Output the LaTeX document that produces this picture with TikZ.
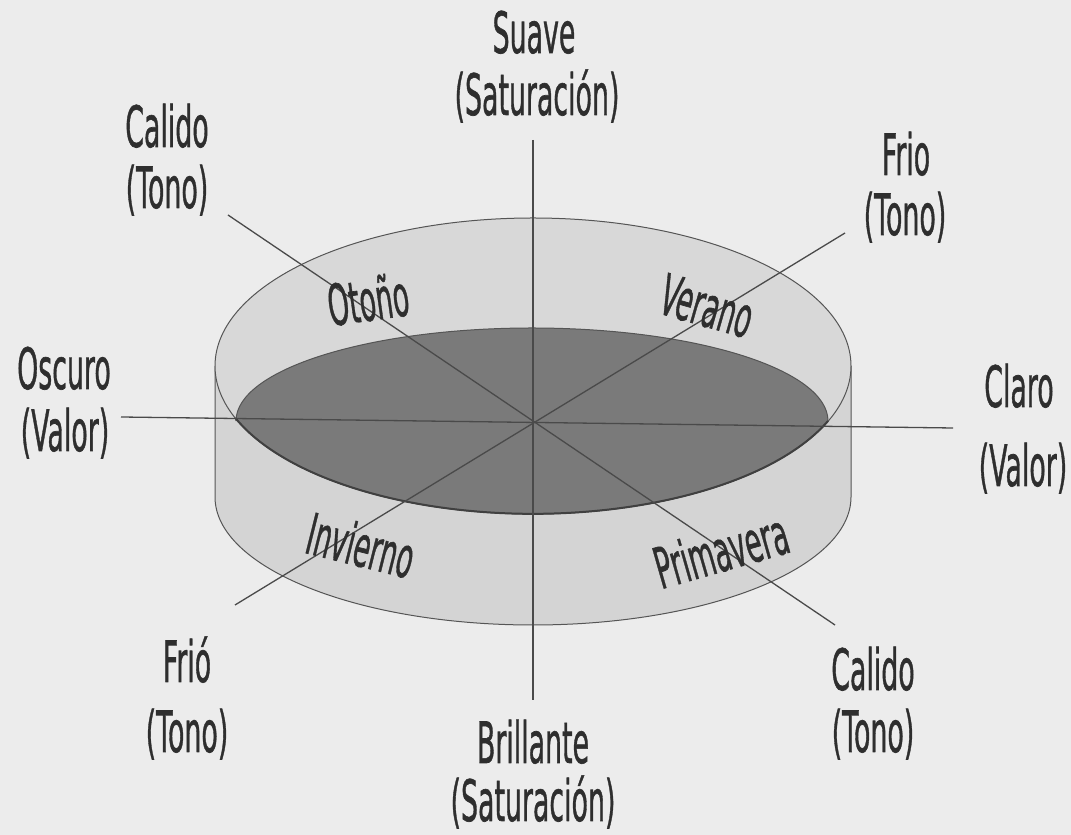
\documentclass[tikz,border=0pt]{standalone}
\usepackage{fontspec}
\setmainfont{DejaVu Sans}
\newfontfamily\lblfont[FakeBold=1.2]{DejaVu Sans}
\definecolor{bgc}{HTML}{ECECEC}
\definecolor{sidec}{HTML}{D4D4D4}
\definecolor{topc}{HTML}{D8D8D8}
\definecolor{darkc}{HTML}{7A7A7A}
\definecolor{edgec}{HTML}{555555}
\definecolor{axisc}{HTML}{4A4A4A}
\definecolor{txtc}{HTML}{2E2E2E}
\newcommand{\cz}[1]{\scalebox{0.47}[1]{#1}}
\begin{document}
\begin{tikzpicture}[x=1pt,y=1pt,
  lbl/.style={anchor=base, inner sep=0pt, text=txtc, font=\lblfont\fontsize{57}{64}\selectfont},
  season/.style={anchor=center, inner sep=0pt, text=txtc, font=\lblfont\fontsize{57}{64}\selectfont},
  axisline/.style={draw=axisc, line width=1.3pt},
  rim/.style={draw=edgec, line width=1pt}]
\useasboundingbox (0,0) rectangle (1071,835);
\fill[bgc] (0,0) rectangle (1071,835);
% cylinder side
\fill[sidec] (215,469) -- (215,338) arc[start angle=180, end angle=360, x radius=318, y radius=128] -- (851,469) -- cycle;
\draw[rim] (215,469) -- (215,338) arc[start angle=180, end angle=360, x radius=318, y radius=128] -- (851,469);
% top face
\filldraw[fill=topc, rim] (533,469) ellipse[x radius=318, y radius=148];
% dark lens
\filldraw[fill=darkc, draw=edgec, line width=1pt] (236,414) arc[start angle=180, end angle=0, x radius=296, y radius=93]
  arc[start angle=-21.9, end angle=-159.1, x radius=318, y radius=148] -- cycle;
\draw[draw=black!75, line width=2pt] (828,414) arc[start angle=-21.9, end angle=-159.1, x radius=318, y radius=148];
% axis end points
\coordinate (vt) at (533,695);
\coordinate (vb) at (533,135);
\coordinate (hl) at (121,418);
\coordinate (hr) at (953,407);
\coordinate (dtl) at (228,620);
\coordinate (dbr) at (835,210);
\coordinate (dtr) at (845,602);
\coordinate (dbl) at (235,230);
\draw[axisline] (vt) -- (vb);
\draw[axisline] (hl) -- (hr);
\draw[axisline] (dtl) -- (dbr);
\draw[axisline] (dtr) -- (dbl);
% season labels
\node[season, rotate=8] (otono) at (368,536) {\cz{Otoño}};
\node[season, rotate=-16] (verano) at (707,529) {\cz{Verano}};
\node[season, rotate=-14] (invierno) at (361,290) {\cz{Invierno}};
\node[season, rotate=16] (primavera) at (721,285) {\cz{Primavera}};
% outer labels
\node[lbl] (suave1) at (534,782) {\cz{Suave}};
\node[lbl] (suave2) at (537,720) {\cz{(Saturación)}};
\node[lbl] (calA1) at (167,688) {\cz{Calido}};
\node[lbl] (calA2) at (167,627) {\cz{(Tono)}};
\node[lbl] (frioA1) at (906,660) {\cz{Frio}};
\node[lbl] (frioA2) at (905,600) {\cz{(Tono)}};
\node[lbl] (osc1) at (64,446) {\cz{Oscuro}};
\node[lbl] (osc2) at (65,384) {\cz{(Valor)}};
\node[lbl] (claro1) at (1019,428) {\cz{Claro}};
\node[lbl] (claro2) at (1023,349) {\cz{(Valor)}};
\node[lbl] (frioB1) at (187,153) {\cz{Frió}};
\node[lbl] (frioB2) at (187,83) {\cz{(Tono)}};
\node[lbl] (calB1) at (873,145) {\cz{Calido}};
\node[lbl] (calB2) at (873,83) {\cz{(Tono)}};
\node[lbl] (bri1) at (533,72) {\cz{Brillante}};
\node[lbl] (bri2) at (533,14) {\cz{(Saturación)}};
\end{tikzpicture}
\end{document}
